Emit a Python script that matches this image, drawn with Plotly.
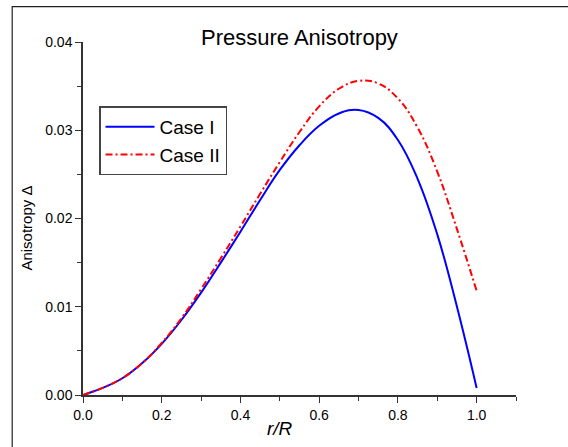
import plotly.graph_objects as go

r_over_R = [0.0, 0.05, 0.1, 0.15, 0.2, 0.25, 0.3, 0.35, 0.4, 0.45, 0.5,
            0.55, 0.6, 0.65, 0.7, 0.75, 0.8, 0.85, 0.9, 0.95, 1.0]
case_I = [0.0, 0.00080, 0.0019, 0.0036, 0.0058, 0.0085, 0.0116, 0.0150, 0.0185,
          0.0221, 0.0255, 0.0283, 0.0305, 0.0319, 0.0323, 0.0314, 0.0289, 0.0245,
          0.0182, 0.0100, 0.0008]
case_II = [0.0, 0.00081, 0.0019, 0.0036, 0.0059, 0.0087, 0.0120, 0.0155, 0.0191,
           0.0228, 0.0264, 0.0298, 0.0327, 0.0347, 0.0356, 0.0353, 0.0336, 0.0303,
           0.0253, 0.0188, 0.0118]

x_ticks = [0.0, 0.2, 0.4, 0.6, 0.8, 1.0]
y_ticks = [0.00, 0.01, 0.02, 0.03, 0.04]

FONT = "Arial, Liberation Sans, sans-serif"
AX = "#333333"

fig = go.Figure()
fig.add_trace(go.Scatter(x=r_over_R, y=case_I, mode="lines", name="Case I",
                         line=dict(color="#0000FF", width=2, shape="spline", smoothing=1.2)))
fig.add_trace(go.Scatter(x=r_over_R, y=case_II, mode="lines", name="Case II",
                         line=dict(color="#FF0000", width=2, shape="spline", smoothing=1.2,
                                   dash="7px,3px,2px,3px")))

fig.update_layout(
    width=568, height=447,
    margin=dict(l=83, r=52, t=42, b=52),
    paper_bgcolor="white", plot_bgcolor="white",
    font=dict(family=FONT, color="black"),
    showlegend=True,
    legend=dict(x=0.037, y=0.8175, xanchor="left", yanchor="top",
                bordercolor="#444444", borderwidth=1.5, bgcolor="white",
                font=dict(size=19, family=FONT, color="black"),
                tracegroupgap=0, itemwidth=49),
    xaxis=dict(range=[0, 1.1], tickvals=x_ticks, ticktext=[f"{v:.1f}" for v in x_ticks],
               ticks="outside", ticklen=6, tickwidth=1.2, tickcolor=AX,
               showline=True, linecolor=AX, linewidth=1.5, showgrid=False,
               zeroline=False, tickfont=dict(size=14, family=FONT, color="black"),
               minor=dict(dtick=0.1, tick0=0, ticks="outside", ticklen=4,
                          tickwidth=1.2, tickcolor=AX, showgrid=False)),
    yaxis=dict(range=[0, 0.04], tickvals=y_ticks, ticktext=[f"{v:.2f}" for v in y_ticks],
               ticks="outside", ticklen=6, tickwidth=1.2, tickcolor=AX,
               showline=True, linecolor=AX, linewidth=1.5, showgrid=False,
               zeroline=False, tickfont=dict(size=14, family=FONT, color="black"),
               minor=dict(dtick=0.005, tick0=0, ticks="outside", ticklen=4,
                          tickwidth=1.2, tickcolor=AX, showgrid=False)),
    shapes=[dict(type="rect", xref="paper", yref="paper",
                 x0=-0.1635, x1=1.2, y0=-0.3, y1=1.100,
                 line=dict(color="#222222", width=1.2), fillcolor="rgba(0,0,0,0)",
                 layer="below")],
    annotations=[
        dict(text="Pressure Anisotropy", xref="paper", yref="paper", x=0.5004, y=1.0125,
             xanchor="center", yanchor="middle", showarrow=False,
             font=dict(size=22, family=FONT, color="black")),
        dict(text="<i>r/R</i>", xref="x", yref="paper", x=0.5, y=-0.0936,
             xanchor="center", yanchor="middle", showarrow=False,
             font=dict(size=19, family=FONT, color="black")),
        dict(text="Anisotropy Δ", xref="paper", yref="paper", x=-0.130, y=0.4735,
             xanchor="center", yanchor="middle", showarrow=False, textangle=-90,
             font=dict(size=15, family=FONT, color="black")),
    ],
)

fig.write_html("out.html", config={"displayModeBar": False},
               post_script="document.body.style.margin='0';document.body.style.overflow='hidden';")
